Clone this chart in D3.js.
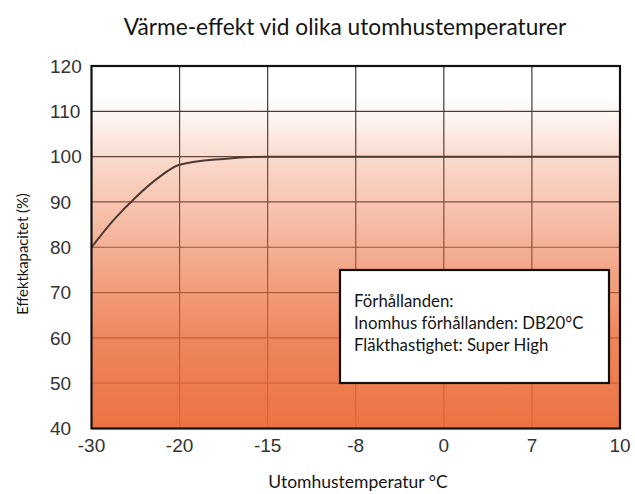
<!doctype html>
<html lang="sv">
<head>
  <meta charset="utf-8" />
  <title>Värme-effekt vid olika utomhustemperaturer</title>
  <script src="https://cdn.jsdelivr.net/npm/d3@7"></script>
  <style>
    body { margin: 0; background: #fff; }
    text { font-family: Lato, "Open Sans", sans-serif; fill: #151515; }
    .tick-label { font-family: "Liberation Sans", Arial, sans-serif; fill: #333; font-size: 19px; }
  </style>
</head>
<body>
  <svg id="chart" width="635" height="494"></svg>
  <script>
    // x axis categories (evenly spaced, not linear in temperature)
    const tempTicks = [-30, -20, -15, -8, 0, 7, 10];
    const capacityTicks = [40, 50, 60, 70, 80, 90, 100, 110, 120];

    // capacity curve
    const curveTemps = [-30, -27.5, -25, -22.5, -20, -17.5, -15, -8, 0, 7, 10];
    const curveValues = [80, 86, 91, 95.2, 98.2, 99.5, 100, 100, 100, 100, 100];

    const legendLines = ["Förhållanden:", "Inomhus förhållanden: DB20°C", "Fläkthastighet: Super High"];

    const plotLeft = 91.5, plotRight = 620, plotTop = 66, plotBottom = 428.5;
    const svg = d3.select("#chart");

    const step = (plotRight - plotLeft) / (tempTicks.length - 1);
    const x = d3.scaleLinear()
      .domain(tempTicks)
      .range(tempTicks.map((d, i) => plotLeft + i * step));
    const y = d3.scaleLinear().domain([40, 120]).range([plotBottom, plotTop]);

    // background gradient: white at top to orange at bottom, drawn over the grid
    const grad = svg.append("defs").append("linearGradient")
      .attr("id", "heat").attr("x1", 0).attr("y1", 0).attr("x2", 0).attr("y2", 1);
    [[0, 0], [0.08, 0], [0.14, 0.07], [0.25, 0.24], [0.5, 0.52], [0.75, 0.8], [1, 0.93]]
      .forEach(s => grad.append("stop")
        .attr("offset", s[0])
        .attr("stop-color", "#ea6834")
        .attr("stop-opacity", s[1]));

    const grid = svg.append("g").attr("stroke", "#3c3c3c").attr("stroke-width", 1.2);
    grid.selectAll("line.h").data(capacityTicks.slice(1, -1)).enter().append("line")
      .attr("class", "h")
      .attr("x1", plotLeft).attr("x2", plotRight)
      .attr("y1", d => y(d)).attr("y2", d => y(d));
    grid.selectAll("line.v").data(tempTicks.slice(1, -1)).enter().append("line")
      .attr("class", "v")
      .attr("x1", d => x(d)).attr("x2", d => x(d))
      .attr("y1", plotTop).attr("y2", plotBottom);

    svg.append("rect")
      .attr("x", plotLeft).attr("y", plotTop)
      .attr("width", plotRight - plotLeft).attr("height", plotBottom - plotTop)
      .attr("fill", "url(#heat)");

    const line = d3.line()
      .x((d, i) => x(curveTemps[i]))
      .y(d => y(d))
      .curve(d3.curveMonotoneX);

    svg.append("path")
      .datum(curveValues)
      .attr("d", line)
      .attr("fill", "none")
      .attr("stroke", "#4e3a33")
      .attr("stroke-width", 2);

    // frame
    svg.append("rect")
      .attr("x", plotLeft).attr("y", plotTop)
      .attr("width", plotRight - plotLeft).attr("height", plotBottom - plotTop)
      .attr("fill", "none").attr("stroke", "#111").attr("stroke-width", 2.2);

    // tick labels
    svg.append("g").selectAll("text").data(capacityTicks).enter().append("text")
      .attr("class", "tick-label")
      .attr("x", 50)
      .attr("y", d => y(d))
      .attr("dy", "0.36em")
      .text(d => d);

    svg.append("g").selectAll("text").data(tempTicks).enter().append("text")
      .attr("class", "tick-label")
      .attr("x", d => x(d))
      .attr("y", 452)
      .attr("text-anchor", "middle")
      .text(d => d);

    // legend box
    svg.append("rect")
      .attr("x", 340).attr("y", 270).attr("width", 269).attr("height", 113)
      .attr("fill", "#fff").attr("stroke", "#111").attr("stroke-width", 2.2);
    svg.append("g").selectAll("text").data(legendLines).enter().append("text")
      .attr("x", 354)
      .attr("y", (d, i) => 307 + i * 22)
      .style("font-size", "16.8px")
      .text(d => d);

    // titles
    svg.append("text")
      .attr("x", 345).attr("y", 35)
      .attr("text-anchor", "middle")
      .style("font-size", "22.7px")
      .text("Värme-effekt vid olika utomhustemperaturer");

    svg.append("text")
      .attr("x", 358).attr("y", 488)
      .attr("text-anchor", "middle")
      .style("font-size", "17.5px")
      .text("Utomhustemperatur °C");

    svg.append("text")
      .attr("transform", "translate(28,254) rotate(-90)")
      .attr("text-anchor", "middle")
      .style("font-size", "14.8px")
      .text("Effektkapacitet (%)");
  </script>
</body>
</html>
